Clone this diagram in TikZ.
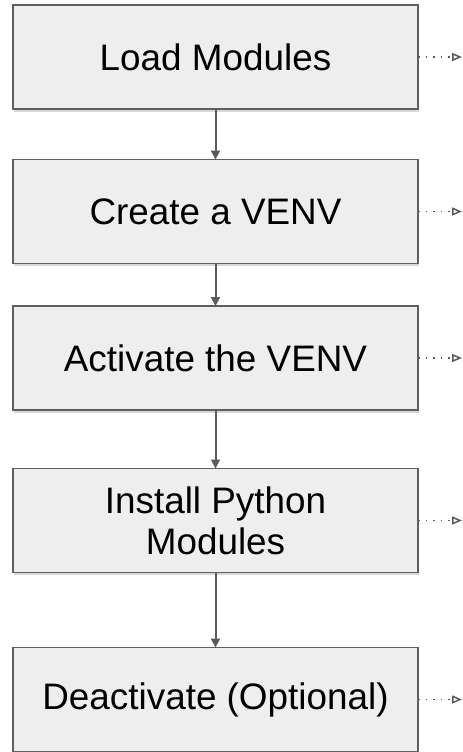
\documentclass[tikz,border=0pt]{standalone}
\usepackage{fontspec}
\setmainfont{Liberation Sans}
\usetikzlibrary{arrows.meta, positioning, shadows}
\definecolor{boxfill}{HTML}{EEEEEE}
\definecolor{boxline}{HTML}{5F5F5F}
\definecolor{linkgray}{HTML}{5B5B5B}

\begin{document}
\begin{tikzpicture}[node distance=50bp,
	stepbox/.style={draw=boxline, line width=1.8bp, fill=boxfill,
		minimum width=405bp, minimum height=104bp, inner sep=0pt, outer sep=0pt,
		align=center, font=\fontsize{37}{41}\selectfont,
		drop shadow={opacity=0.3, shadow xshift=0.5bp, shadow yshift=-2.5bp}},
	flow/.style={draw=linkgray, line width=2bp, -{Triangle[length=9bp, width=9bp]}},
	hint/.style={draw=linkgray, line width=1.5bp, dash pattern=on 1.5bp off 6bp,
		-{Triangle[open, length=10bp, width=8bp]}}]

	\useasboundingbox (0,0) rectangle (463bp,-752bp);

	% Steps
	\node (b1) [stepbox] at (215.5bp,-57bp) {Load Modules};
	\node (b2) [stepbox, below=50.5bp of b1] {Create a VENV};
	\node (b3) [stepbox, below=42.5bp of b2] {Activate the VENV};
	\node (b4) [stepbox, below=58.5bp of b3] {Install Python\\Modules};
	\node (b5) [stepbox, below=75bp of b4] {Deactivate (Optional)};

	% Free ends of the side arrows
	\coordinate (e1) at ([xshift=44bp]b1.east);
	\coordinate (e2) at ([xshift=44bp]b2.east);
	\coordinate (e3) at ([xshift=44bp]b3.east);
	\coordinate (e4) at ([xshift=44bp]b4.east);
	\coordinate (e5) at ([xshift=44bp]b5.east);

	% Arrows between the steps
	\draw[flow] (b1) -- (b2);
	\draw[flow] (b2) -- (b3);
	\draw[flow] (b3) -- (b4);
	\draw[flow] (b4) -- (b5);

	% Dotted arrows on the right
	\draw[hint] (b1.east) -- (e1);
	\draw[hint] (b2.east) -- (e2);
	\draw[hint] (b3.east) -- (e3);
	\draw[hint] (b4.east) -- (e4);
	\draw[hint] (b5.east) -- (e5);

\end{tikzpicture}
\end{document}
